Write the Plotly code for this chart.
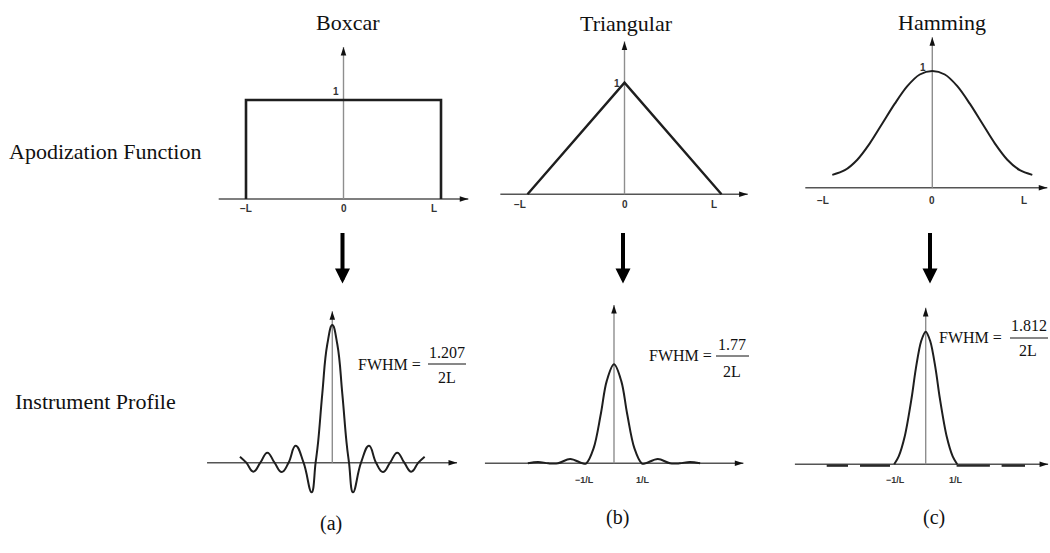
import plotly.graph_objects as go

W, H = 1050, 553

# ---- Apodization functions (x in units of L) ----
BOX_X = [-1, -1, 1, 1]
BOX_Y = [0, 1, 1, 0]

TRI_X = [-1, 0, 1]
TRI_Y = [0, 1, 0]

HAM_X = [-1, -0.875, -0.75, -0.625, -0.5, -0.375, -0.25, -0.125, 0,
         0.125, 0.25, 0.375, 0.5, 0.625, 0.75, 0.875, 1]
HAM_Y = [0.11, 0.15, 0.24, 0.38, 0.55, 0.72, 0.87, 0.97, 1.0,
         0.97, 0.87, 0.72, 0.55, 0.38, 0.24, 0.15, 0.11]

# ---- Instrument profiles (x in units of 1/L) ----
SINC_X = [-5.53, -5.15, -4.73, -4.31, -3.89, -3.46, -3.03, -2.62, -2.20, -1.72,
          -1.24, -1.0, -0.85, -0.6, -0.3, 0, 0.3, 0.6, 0.85, 1.0, 1.24,
          1.72, 2.20, 2.62, 3.03, 3.46, 3.89, 4.31, 4.73, 5.15, 5.53]
SINC_Y = [0.044, 0, -0.065, 0, 0.073, 0, -0.068, 0, 0.123, 0,
          -0.215, 0, 0.15, 0.50, 0.86, 1.0, 0.86, 0.50, 0.15, 0, -0.215,
          0, 0.123, 0, -0.068, 0, 0.073, 0, -0.065, 0, 0.044]

SINC2_X = [-2.95, -2.6, -2.25, -1.92, -1.5, -1.08, -0.95, -0.7, -0.45, -0.25, 0,
           0.25, 0.45, 0.7, 0.95, 1.08, 1.5, 1.92, 2.25, 2.6, 2.95]
SINC2_Y = [0, 0.014, 0, 0, 0.044, 0, 0, 0.15, 0.5, 0.83, 1.0,
           0.83, 0.5, 0.15, 0, 0, 0.044, 0, 0, 0.014, 0]

HAMP_X = [-1.05, -0.9, -0.7, -0.47, -0.33, -0.15, 0, 0.15, 0.33, 0.47, 0.7, 0.9, 1.05]
HAMP_Y = [0, 0.06, 0.21, 0.5, 0.72, 0.93, 1.0, 0.93, 0.72, 0.5, 0.21, 0.06, 0]

# faint side lobes of the Hamming profile, lying along the axis
HAMP_SIDE_X = [-3.3, -2.59, None, -2.19, -1.19, None, 1.03, 2.14, None, 2.53, 3.31]
HAMP_SIDE_Y = [-0.01, -0.01, None, -0.01, -0.01, None, -0.01, -0.01, None, -0.01, -0.01]

FWHM_NUM = ["1.207", "1.77", "1.812"]
FWHM_DEN = "2L"
TITLES = ["Boxcar", "Triangular", "Hamming"]
ROW_LABELS = ["Apodization Function", "Instrument Profile"]
PANEL_TAGS = ["(a)", "(b)", "(c)"]
TOP_TICKS = [-1, 0, 1]
TOP_TICK_TEXT = ["\u2212L", "0", "L"]
BOT_TICKS = [-1, 1]
BOT_TICK_TEXT = ["\u22121/L", "1/L"]

# ---- layout of the six panels: pixel box, pixel origin, pixels per unit ----
PANELS = [
    dict(box=(190, 0, 480, 290), origin=(343.5, 199), scale=(97.5, 99),
         hspan=(-1.28, 1.28), vtop=1.535, x=BOX_X, y=BOX_Y, lw=2.6, shape="linear", sm=0),
    dict(box=(480, 0, 770, 290), origin=(624.5, 194.3), scale=(97, 111.6),
         hspan=(-1.28, 1.27), vtop=1.37, x=TRI_X, y=TRI_Y, lw=2.4, shape="linear", sm=0),
    dict(box=(770, 0, 1050, 290), origin=(932.3, 187.7), scale=(100, 116.7),
         hspan=(-1.27, 1.15), vtop=1.29, x=HAM_X, y=HAM_Y, lw=2.0, shape="spline", sm=0.9),
    dict(box=(190, 290, 480, 553), origin=(332.3, 462.7), scale=(16.7, 137.7),
         hspan=(-7.5, 7.47), vtop=1.10, x=SINC_X, y=SINC_Y, lw=2.0, shape="spline", sm=1.3),
    dict(box=(480, 290, 770, 553), origin=(614, 463.3), scale=(29.2, 99),
         hspan=(-4.42, 4.43), vtop=1.6, x=SINC2_X, y=SINC2_Y, lw=2.0, shape="spline", sm=1.0),
    dict(box=(770, 290, 1050, 553), origin=(925.7, 464.3), scale=(30, 132.6),
         hspan=(-4.36, 4.08), vtop=1.18, x=HAMP_X, y=HAMP_Y, lw=2.0, shape="spline", sm=0.9),
]

H_AXIS_COLOR = "#555555"
V_AXIS_COLOR = "#8e8e8e"
CURVE_COLOR = "#1e1e1e"
SERIF = "Liberation Serif"
SANS = "Liberation Sans"


def px(x, y):
    return x / W, 1 - y / H


fig = go.Figure()
layout_axes = {}
annotations = []
shapes = []

for i, p in enumerate(PANELS):
    suffix = "" if i == 0 else str(i + 1)
    xa, ya = "x" + suffix, "y" + suffix
    left, top, right, bottom = p["box"]
    ox, oy = p["origin"]
    sx, sy = p["scale"]
    layout_axes["xaxis" + suffix] = dict(
        domain=[left / W, right / W], range=[(left - ox) / sx, (right - ox) / sx],
        visible=False, anchor=ya, fixedrange=True)
    layout_axes["yaxis" + suffix] = dict(
        domain=[1 - bottom / H, 1 - top / H], range=[(oy - bottom) / sy, (oy - top) / sy],
        visible=False, anchor=xa, fixedrange=True)

    h0, h1 = p["hspan"]
    # axes drawn as lines
    fig.add_trace(go.Scatter(x=[h0, h1], y=[0, 0], mode="lines", xaxis=xa, yaxis=ya,
                             line=dict(color=H_AXIS_COLOR, width=1.4), cliponaxis=False,
                             hoverinfo="skip", showlegend=False))
    fig.add_trace(go.Scatter(x=[0, 0], y=[0, p["vtop"]], mode="lines", xaxis=xa, yaxis=ya,
                             line=dict(color=V_AXIS_COLOR, width=1.4), cliponaxis=False,
                             hoverinfo="skip", showlegend=False))
    # the function / profile
    line = dict(color=CURVE_COLOR, width=p["lw"], shape=p["shape"])
    if p["shape"] == "spline":
        line["smoothing"] = p["sm"]
    fig.add_trace(go.Scatter(x=p["x"], y=p["y"], mode="lines", xaxis=xa, yaxis=ya,
                             line=line, cliponaxis=False, hoverinfo="skip", showlegend=False))
    if i == 5:
        fig.add_trace(go.Scatter(x=HAMP_SIDE_X, y=HAMP_SIDE_Y, mode="lines", xaxis=xa, yaxis=ya,
                                 line=dict(color="#2a2a2a", width=2.4), cliponaxis=False,
                                 hoverinfo="skip", showlegend=False))
    # arrow heads at the axis ends
    fig.add_trace(go.Scatter(x=[h1, 0], y=[0, p["vtop"]], mode="markers", xaxis=xa, yaxis=ya,
                             marker=dict(symbol="arrow", size=9, angle=[90, 0], color="#111111",
                                         line=dict(width=0)),
                             cliponaxis=False, hoverinfo="skip", showlegend=False))

    # tick labels
    if i < 3:
        yshift = [-9, -10, -13][i]
        lx = [[0, 0, -7.5], [-7.5, 0, -7.5], [-9, 0, -8]][i]
        for t, txt, dx in zip(TOP_TICKS, TOP_TICK_TEXT, lx):
            annotations.append(dict(x=t, y=0, xref=xa, yref=ya, text="<b>%s</b>" % txt,
                                    showarrow=False, xshift=dx, yshift=yshift,
                                    font=dict(family=SANS, size=10, color="#333333")))
        one = [(-8, 9), (-7.5, -1), (-9, 4)][i]
        annotations.append(dict(x=0, y=1, xref=xa, yref=ya, text="<b>1</b>", showarrow=False,
                                xshift=one[0], yshift=one[1],
                                font=dict(family=SANS, size=10, color="#333333")))
    elif i > 3:
        ys = -17 if i == 4 else -16
        for t, txt in zip(BOT_TICKS, BOT_TICK_TEXT):
            annotations.append(dict(x=t, y=0, xref=xa, yref=ya, text="<b>%s</b>" % txt,
                                    showarrow=False, yshift=ys,
                                    font=dict(family=SANS, size=9, color="#333333")))

# column titles
for txt, (cx, cy) in zip(TITLES, [(348, 23), (626, 24), (942, 23)]):
    x, y = px(cx, cy)
    annotations.append(dict(x=x, y=y, xref="paper", yref="paper", text=txt, showarrow=False,
                            xanchor="center", yanchor="middle",
                            font=dict(family=SERIF, size=22, color="#111111")))

# row labels
for txt, (lx, ly) in zip(ROW_LABELS, [(7, 151), (13, 401)]):
    x, y = px(lx, ly)
    annotations.append(dict(x=x, y=y, xref="paper", yref="paper", text=txt, showarrow=False,
                            xanchor="left", yanchor="middle",
                            font=dict(family=SERIF, size=22, color="#111111")))

# panel tags
for txt, (cx, cy) in zip(PANEL_TAGS, [(331, 523), (617, 517), (934, 517)]):
    x, y = px(cx, cy)
    annotations.append(dict(x=x, y=y, xref="paper", yref="paper", text=txt, showarrow=False,
                            xanchor="center", yanchor="middle",
                            font=dict(family=SERIF, size=20, color="#111111")))

# FWHM expressions: label, numerator, fraction bar, denominator
FWHM_POS = [
    dict(lab=(356, 364), num=(446.7, 352), bar=(428, 466, 364), den=(446.7, 377.5)),
    dict(lab=(646.7, 355), num=(732.3, 344), bar=(716, 749, 356), den=(732.3, 371)),
    dict(lab=(936.7, 337.5), num=(1029, 325.5), bar=(1010, 1048, 338), den=(1027.5, 350)),
]
for num, pos in zip(FWHM_NUM, FWHM_POS):
    x, y = px(*pos["lab"])
    annotations.append(dict(x=x, y=y, xref="paper", yref="paper", text="FWHM =",
                            showarrow=False, xanchor="left", yanchor="middle",
                            font=dict(family=SERIF, size=16, color="#111111")))
    x, y = px(*pos["num"])
    annotations.append(dict(x=x, y=y, xref="paper", yref="paper", text=num,
                            showarrow=False, xanchor="center", yanchor="middle",
                            font=dict(family=SERIF, size=16, color="#111111")))
    x, y = px(*pos["den"])
    annotations.append(dict(x=x, y=y, xref="paper", yref="paper", text=FWHM_DEN,
                            showarrow=False, xanchor="center", yanchor="middle",
                            font=dict(family=SERIF, size=16, color="#111111")))
    b0, b1, by = pos["bar"]
    x0, y0 = px(b0, by)
    x1, _ = px(b1, by)
    shapes.append(dict(type="line", xref="paper", yref="paper", x0=x0, x1=x1, y0=y0, y1=y0,
                       line=dict(color="#111111", width=1)))

# big arrows from each apodization function to its instrument profile
for ax_px in [342.5, 623, 930]:
    x, y = px(ax_px, 283.5)
    annotations.append(dict(x=x, y=y, xref="paper", yref="paper", ax=0, ay=-52,
                            axref="pixel", ayref="pixel", showarrow=True, text="",
                            arrowhead=2, arrowwidth=4, arrowsize=0.75, arrowcolor="#000000"))

fig.update_layout(
    width=W, height=H, margin=dict(l=0, r=0, t=0, b=0),
    paper_bgcolor="white", plot_bgcolor="rgba(0,0,0,0)",
    showlegend=False, annotations=annotations, shapes=shapes,
    **layout_axes,
)

fig.write_html("out.html", config=dict(displayModeBar=False))
